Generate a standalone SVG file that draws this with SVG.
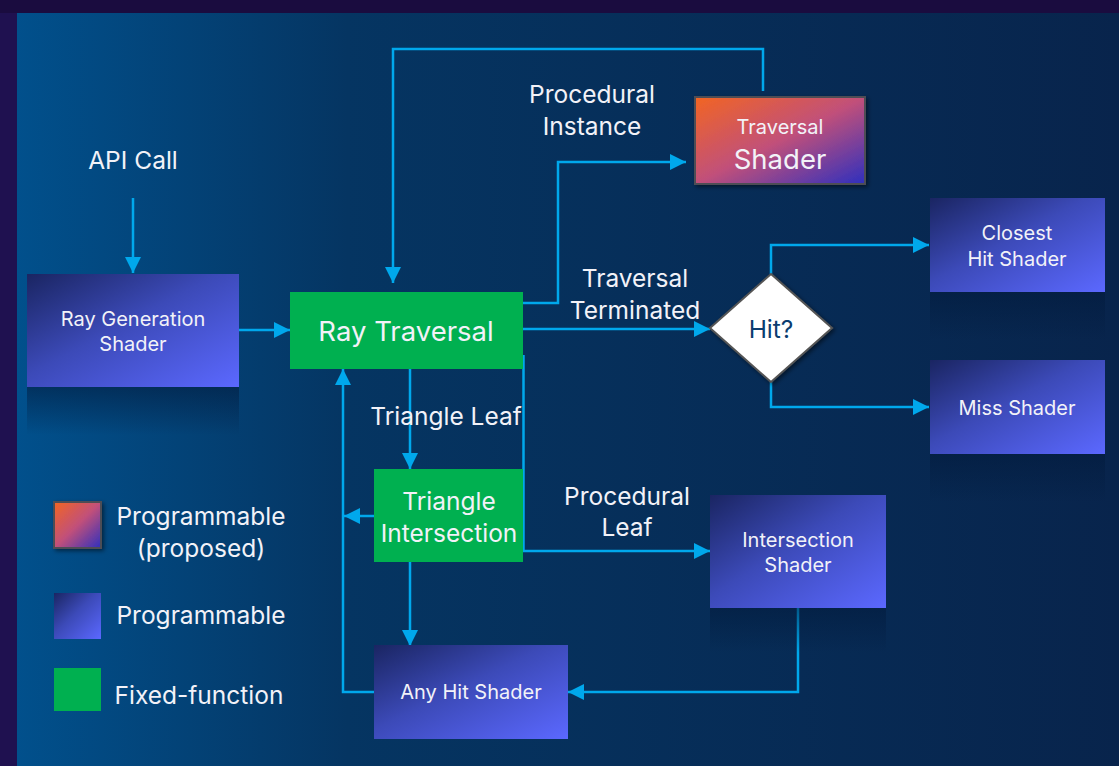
<svg xmlns="http://www.w3.org/2000/svg" width="1119" height="766" viewBox="0 0 1119 766">
<defs>
<linearGradient id="bg" x1="0" y1="0" x2="1" y2="0">
<stop offset="0" stop-color="#01508c"/>
<stop offset="0.3" stop-color="#053562"/>
<stop offset="1" stop-color="#08244c"/>
</linearGradient>
<linearGradient id="prog" x1="0" y1="0" x2="1" y2="1">
<stop offset="0" stop-color="#1a2562"/>
<stop offset="0.45" stop-color="#3c4ab8"/>
<stop offset="1" stop-color="#5b68ff"/>
</linearGradient>
<linearGradient id="prop" x1="0" y1="0" x2="1" y2="1">
<stop offset="0" stop-color="#f26522"/>
<stop offset="0.5" stop-color="#c1507a"/>
<stop offset="1" stop-color="#2e2fbe"/>
</linearGradient>
<linearGradient id="refl" x1="0" y1="0" x2="0" y2="1">
<stop offset="0" stop-color="#021a3c" stop-opacity="0.55"/>
<stop offset="1" stop-color="#021a3c" stop-opacity="0"/>
</linearGradient>
<filter id="sh" x="-10%" y="-10%" width="130%" height="130%">
<feDropShadow dx="2" dy="2" stdDeviation="2" flood-color="#000" flood-opacity="0.5"/>
</filter>
<marker id="ah" markerUnits="userSpaceOnUse" markerWidth="16" markerHeight="16" refX="16" refY="8" orient="auto" viewBox="0 0 16 16">
<path d="M0,0 L16,8 L0,16 z" fill="#00a8ec"/>
</marker>
<style>
text{font-family:Inter,"Liberation Sans",sans-serif;fill:#f2f2f8;text-anchor:middle}
.c{fill:none;stroke:#00a8ec;stroke-width:2.5}
.a{marker-end:url(#ah)}
.lbl{font-size:24.5px}
.sm{font-size:20px}
.green{fill:#00b050}
.prog{fill:url(#prog)}
.refl{fill:url(#refl)}
</style>
</defs>
<rect width="1119" height="766" fill="#1a0c3f"/>
<rect x="0" y="13" width="17" height="753" fill="#1f1150"/>
<rect x="17" y="13" width="1102" height="753" fill="url(#bg)"/>

<g id="connectors">
<path class="c a" d="M763,91 V49 H393 V283"/>
<path class="c a" d="M133,198 V273"/>
<path class="c a" d="M239,330 H290"/>
<path class="c a" d="M520,303 H558 V162 H686"/>
<path class="c a" d="M523,329 H710"/>
<path class="c a" d="M771,274 V245 H929"/>
<path class="c a" d="M771,382 V407 H929"/>
<path class="c a" d="M410,369 V469"/>
<path class="c" d="M523.5,355 V551"/>
<path class="c a" d="M523,551 H710"/>
<path class="c a" d="M374,516 H344"/>
<path class="c a" d="M410,562 V646"/>
<path class="c a" d="M798,608 V692 H568"/>
<path class="c a" d="M374,692 H343 V369"/>
<text class="lbl" x="133" y="169">API Call</text>
<text class="lbl" x="592" y="103">Procedural</text>
<text class="lbl" x="592" y="135">Instance</text>
<text class="lbl" x="635" y="287">Traversal</text>
<text class="lbl" x="635" y="319">Terminated</text>
<text class="lbl" x="446" y="425">Triangle Leaf</text>
<text class="lbl" x="627" y="505">Procedural</text>
<text class="lbl" x="627" y="536">Leaf</text>
</g>

<g id="ray-generation">
<rect class="refl" x="27" y="387" width="212" height="48"/>
<rect class="prog" x="27" y="274" width="212" height="113"/>
<text class="sm" x="133" y="326">Ray Generation</text>
<text class="sm" x="133" y="351">Shader</text>
</g>

<g id="ray-traversal">
<rect class="green" x="290" y="292" width="233" height="77"/>
<text x="406" y="341" font-size="27.5">Ray Traversal</text>
</g>

<g id="traversal-shader">
<rect x="695" y="97" width="170" height="87" fill="url(#prop)" stroke="#4d4d55" stroke-width="2" filter="url(#sh)"/>
<text x="780" y="134" font-size="20">Traversal</text>
<text x="780" y="169" font-size="27.5">Shader</text>
</g>

<g id="hit">
<path d="M771,274 L832,328 L771,382 L710,328 Z" fill="#ffffff" stroke="#555" stroke-width="2" filter="url(#sh)"/>
<text x="771" y="338" font-size="24.5" style="fill:#0b3d70">Hit?</text>
</g>

<g id="closest-hit">
<rect class="refl" x="930" y="292" width="175" height="48"/>
<rect class="prog" x="930" y="198" width="175" height="94"/>
<text class="sm" x="1017" y="240">Closest</text>
<text class="sm" x="1017" y="266">Hit Shader</text>
</g>

<g id="miss">
<rect class="refl" x="930" y="454" width="175" height="48"/>
<rect class="prog" x="930" y="360" width="175" height="94"/>
<text class="sm" x="1017" y="415">Miss Shader</text>
</g>

<g id="triangle-intersection">
<rect class="green" x="374" y="469" width="149" height="93"/>
<text class="lbl" x="449" y="510">Triangle</text>
<text class="lbl" x="449" y="542">Intersection</text>
</g>

<g id="intersection-shader">
<rect class="refl" x="710" y="608" width="176" height="45"/>
<rect class="prog" x="710" y="495" width="176" height="113"/>
<text class="sm" x="798" y="547">Intersection</text>
<text class="sm" x="798" y="572">Shader</text>
</g>

<g id="any-hit">
<rect class="prog" x="374" y="645" width="194" height="94"/>
<text class="sm" x="471" y="699">Any Hit Shader</text>
</g>

<g id="legend">
<rect x="54" y="502" width="47" height="46" fill="url(#prop)" stroke="#4d4d55" stroke-width="2" filter="url(#sh)"/>
<text class="lbl" x="201" y="525">Programmable</text>
<text class="lbl" x="201" y="557">(proposed)</text>
<rect class="prog" x="54" y="593" width="47" height="46"/>
<text class="lbl" x="201" y="624">Programmable</text>
<rect class="green" x="54" y="668" width="47" height="43"/>
<text class="lbl" x="199" y="704">Fixed-function</text>
</g>
</svg>
